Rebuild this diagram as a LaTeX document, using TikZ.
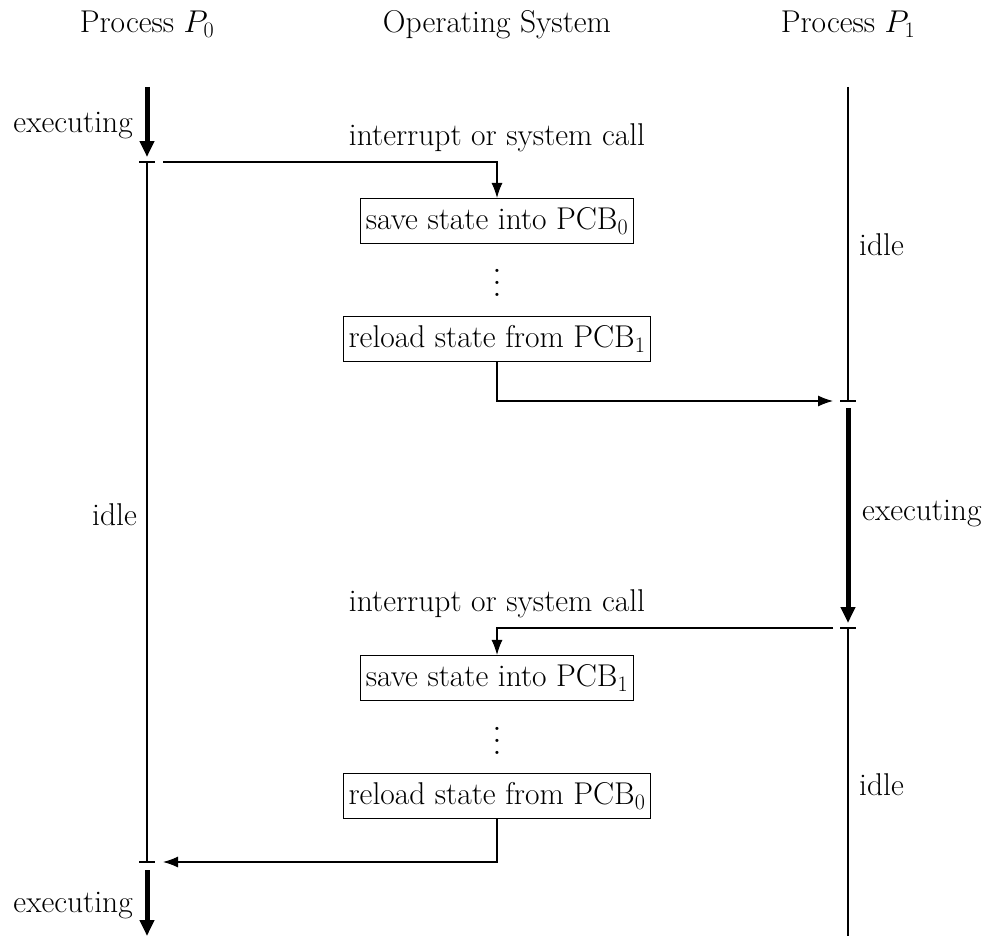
\RequirePackage{fix-cm}
\documentclass[tikz,border=0pt]{standalone}
\usepackage{graphicx}
\usetikzlibrary{arrows.meta}
\begin{document}
\begin{tikzpicture}[x=1pt,y=-1pt,
  font=\fontsize{31.5}{38}\selectfont,
  thinln/.style={line width=1.1pt},
  thickarr/.style={line width=5pt,-{Triangle[length=16pt,width=14pt]}},
  flowarr/.style={line width=1.1pt,-{Latex[length=15pt,width=11pt]}},
  tickln/.style={line width=1.1pt},
  box/.style={draw,line width=1.1pt,inner xsep=5pt,minimum height=45pt},
  lbl/.style={inner sep=0pt},
  dots/.style={inner sep=0pt}
]
\useasboundingbox (0,0) rectangle (987,939);

% titles
\node[lbl,anchor=base] (t0) at (147,33) {Process $P_0$};
\node[lbl,anchor=base] (tos) at (497,33) {Operating System};
\node[lbl,anchor=base] (t1) at (848,33) {Process $P_1$};

% P0 axis coordinates
\coordinate (a0) at (147,87);
\coordinate (a1) at (147,162);
\coordinate (a2) at (147,862);
\coordinate (a3) at (147,870);
\coordinate (a4) at (147,936);
% P1 axis
\coordinate (b0) at (848,87);
\coordinate (b1) at (848,401);
\coordinate (b2) at (848,408);
\coordinate (b3) at (848,628);
\coordinate (b4) at (848,936);

% P0 timeline
\draw[thickarr] (a0) -- (147,157);
\draw[tickln] (139,162) -- (155,162);
\draw[thinln] (a1) -- (a2);
\draw[tickln] (139,862) -- (155,862);
\draw[thickarr] (a3) -- (a4);

% P1 timeline
\draw[thinln] (b0) -- (b1);
\draw[tickln] (840,401) -- (856,401);
\draw[thickarr] (b2) -- (848,623);
\draw[tickln] (840,628) -- (856,628);
\draw[thinln] (b3) -- (b4);

% labels on timelines
\node[lbl,anchor=base east] (e0) at (133,132) {executing};
\node[lbl,anchor=base east] (i0) at (137,525) {idle};
\node[lbl,anchor=base east] (e0b) at (133,912) {executing};
\node[lbl,anchor=base west] (i1) at (859,255) {idle};
\node[lbl,anchor=base west] (e1) at (862,520) {executing};
\node[lbl,anchor=base west] (i1b) at (859,795) {idle};

% OS boxes
\node[box] (s0) at (497,221) {save state into PCB$_0$};
\node[dots] (d0) at (497,274) {\scalebox{3}{\fontsize{10}{12}\selectfont$\vdots$}};
\node[box] (r1) at (497,339) {reload state from PCB$_1$};
\node[box] (s1) at (497,678) {save state into PCB$_1$};
\node[dots] (d1) at (497,732) {\scalebox{3}{\fontsize{10}{12}\selectfont$\vdots$}};
\node[box] (r0) at (497,796) {reload state from PCB$_0$};

% call labels
\node[lbl,anchor=base] (c0) at (497,145) {interrupt or system call};
\node[lbl,anchor=base] (c1) at (497,611) {interrupt or system call};

% flows
\coordinate (f0) at (163,162);
\coordinate (f1) at (833,401);
\coordinate (f2) at (833,628);
\coordinate (f3) at (163,862);
\draw[flowarr] (f0) -| (s0.north);
\draw[flowarr] (r1.south) |- (f1);
\draw[flowarr] (f2) -| (s1.north);
\draw[flowarr] (r0.south) |- (f3);
\end{tikzpicture}
\end{document}
